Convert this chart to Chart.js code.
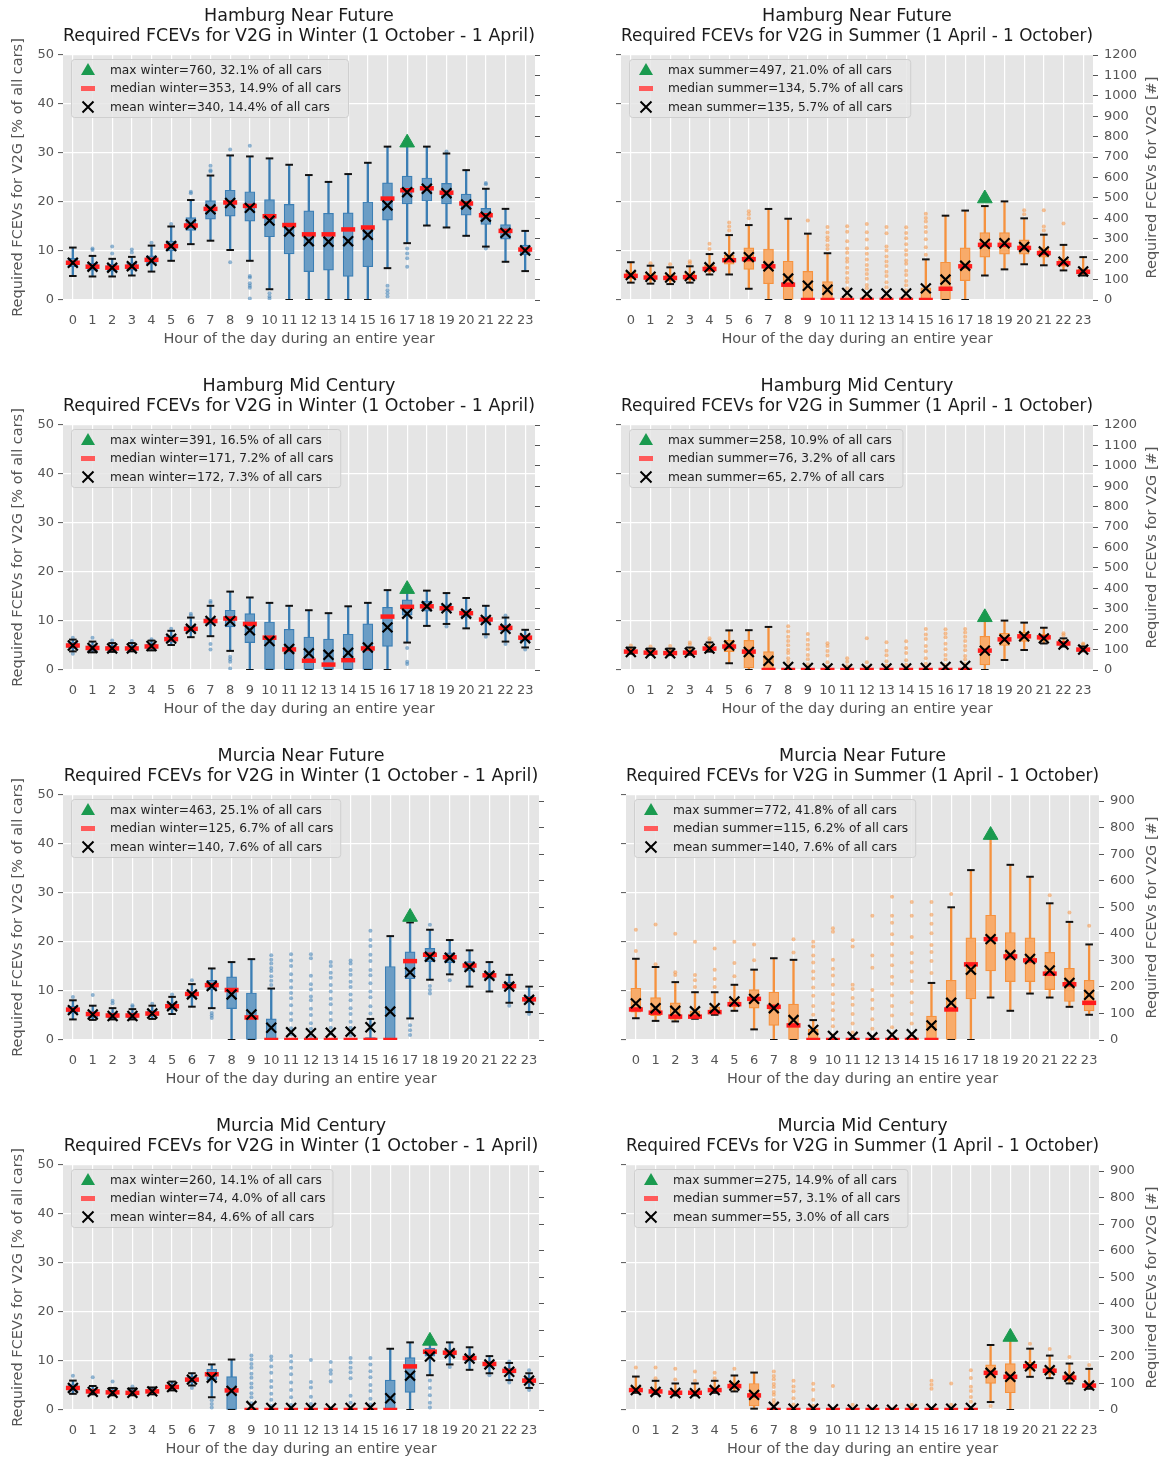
<!DOCTYPE html>
<html>
<head>
<meta charset="utf-8">
<title>Required FCEVs for V2G</title>
<script src="https://cdn.jsdelivr.net/npm/chart.js@4.4.1/dist/chart.umd.min.js"></script>
<style>
  html, body { margin: 0; padding: 0; background: #fff; }
  body { width: 1163px; height: 1461px; position: relative; overflow: hidden; }
  canvas { position: absolute; }
</style>
</head>
<body>
<canvas id="hnfW" width="582" height="370" style="left:0;top:0"></canvas>
<canvas id="hnfS" width="581" height="370" style="left:582px;top:0"></canvas>
<canvas id="hmcW" width="582" height="370" style="left:0;top:370px"></canvas>
<canvas id="hmcS" width="581" height="370" style="left:582px;top:370px"></canvas>
<canvas id="mnfW" width="582" height="370" style="left:0;top:740px"></canvas>
<canvas id="mnfS" width="581" height="370" style="left:582px;top:740px"></canvas>
<canvas id="mmcW" width="582" height="370" style="left:0;top:1110px"></canvas>
<canvas id="mmcS" width="581" height="370" style="left:582px;top:1110px"></canvas>
<script>
const hours = ['0','1','2','3','4','5','6','7','8','9','10','11','12','13','14','15','16','17','18','19','20','21','22','23'];

// Hamburg near future, winter (% of all cars)
const hnfWLo = [4.9,4.8,4.8,5.0,5.8,8.0,11.4,12.1,10.2,8.0,2.2,0,0,0,0,0,6.5,11.6,15.2,14.8,13.1,10.9,7.8,5.9];
const hnfWQ1 = [6.8,6.1,5.9,6.1,7.3,10.0,14.2,16.5,17.1,16.1,12.9,9.4,5.8,6.1,4.8,6.8,16.3,19.6,20.2,19.6,17.3,15.4,12.4,9.2];
const hnfWMed = [7.6,6.8,6.6,6.8,8.2,11.0,15.2,18.6,19.9,19.2,17.1,15.3,13.4,13.4,14.4,14.8,20.7,22.4,22.8,21.9,19.7,17.3,14.1,10.3];
const hnfWQ3 = [8.5,7.5,7.3,7.6,9.0,12.0,16.8,20.3,22.4,22.1,20.5,19.5,18.2,17.7,17.8,20.0,23.9,25.3,24.9,23.8,21.6,18.7,15.4,11.2];
const hnfWHi = [10.7,9.0,8.4,8.8,11.1,15.0,20.4,25.4,29.5,29.3,28.9,27.6,25.5,24.1,25.7,28.0,31.3,31.6,31.3,29.9,26.5,22.7,18.6,14.1];
const hnfWMean = [7.6,6.8,6.6,6.9,8.0,11.0,15.4,18.5,19.8,18.8,16.2,14.0,12.0,11.9,12.0,13.3,19.3,22.0,22.7,21.8,19.5,17.0,13.7,10.1];
const hnfWOut = [[],[10.5,10.2],[10.9,9.5],[10.3,9.7],[11.7],[15.5],[22.1,21.8],[27.4,26.5,26.2],[30.7,7.7],[31.5,4.9,4.6,3.4,2.9,2.5,0.3],[1.4,0.7,0.3],[],[],[],[],[],[2.9,2.0,1.4,0.7],[10.5,9.5,8.5,6.8],[],[30.3],[],[23.9,23.6,10.5],[],[]];
const hnfWMax = [17, 32.1];
const hnfWLegend = ['max winter=760, 32.1% of all cars', 'median winter=353, 14.9% of all cars', 'mean winter=340, 14.4% of all cars'];

// Hamburg near future, summer (number of cars)
const hnfSLo = [85,80,78,85,125,125,55,0,0,0,0,null,null,null,null,0,0,0,120,150,175,170,145,120];
const hnfSQ1 = [105,100,95,100,140,175,150,80,0,0,0,0,0,0,0,0,0,95,210,225,225,210,165,128];
const hnfSMed = [118,110,108,112,152,195,200,165,75,0,0,0,0,0,0,0,55,165,270,270,255,230,180,138];
const hnfSQ3 = [135,130,125,132,170,220,255,250,190,140,90,0,0,0,0,60,185,255,330,330,295,255,200,150];
const hnfSHi = [185,168,160,165,225,318,367,446,398,325,229,null,null,null,null,199,413,438,460,483,400,320,270,210];
const hnfSMean = [122,114,110,117,160,210,210,165,105,70,50,35,30,32,32,57,100,168,275,278,260,238,188,140];
const hnfSOut = [[],[180],[175],[180,190],[250,275],[340,360,380],[400,420,435],[],[],[390],[250,268,293,307,331,358],[14,37,58,88,107,133,158,187,203,231,252,288,334,361],[11,28,57,73,104,127,148,172,198,227,253,296,332,372],[16,38,63,87,117,138,167,188,213,243,262,327,358],[9,27,48,72,93,122,143,177,193,222,244,273,302,328,356],[222,258,297,333,358,384,402,423],[],[],[],[],[420,440],[340,360,440],[375],[]];
const hnfSMax = [18, 497];
const hnfSLegend = ['max summer=497, 21.0% of all cars', 'median summer=134, 5.7% of all cars', 'mean summer=135, 5.7% of all cars'];

// Hamburg mid century, winter (% of all cars)
const hmcWLo = [3.8,3.6,3.7,3.8,4.0,5.1,6.7,6.9,3.9,0,0,0,0,0,0,0,0,5.6,9.0,9.4,8.5,7.3,5.8,4.6];
const hmcWQ1 = [4.5,4.0,4.0,4.0,4.4,5.7,7.8,9.3,8.8,5.6,0,0,0,0,0,0,4.8,11.2,12.0,12.0,10.8,9.6,7.9,6.0];
const hmcWMed = [5.0,4.5,4.4,4.4,4.8,6.3,8.4,10.0,10.5,9.4,6.6,4.2,1.9,1.1,2.0,4.4,10.9,12.9,13.0,12.6,11.6,10.3,8.6,6.6];
const hmcWQ3 = [5.6,5.0,4.9,4.9,5.3,7.0,9.0,10.6,12.2,11.5,9.8,8.3,6.7,6.3,7.3,9.4,12.8,14.3,14.0,13.3,12.3,10.9,9.2,7.1];
const hmcWHi = [6.2,5.8,5.5,5.5,6.0,8.0,10.7,13.1,16.0,14.8,13.7,13.1,12.2,11.6,13.0,13.7,16.3,16.2,16.2,15.7,14.7,13.1,10.7,8.2];
const hmcWMean = [5.0,4.5,4.4,4.4,4.9,6.4,8.4,10.0,10.0,8.1,5.9,4.3,3.4,3.1,3.5,4.6,8.7,11.5,13.0,12.6,11.5,10.2,8.4,6.5];
const hmcWOut = [[6.6,3.3],[6.6],[6.0],[5.9],[6.3],[8.4],[11.1,11.5],[13.7,14.1,4.2,5.3],[2.7,2.2,1.7,0.3],[],[],[],[],[],[],[],[],[4.5,1.7,1.2],[],[8.9],[],[6.8],[11.1,5.3],[4.2]];
const hmcWMax = [17, 16.5];
const hmcWLegend = ['max winter=391, 16.5% of all cars', 'median winter=171, 7.2% of all cars', 'mean winter=172, 7.3% of all cars'];

// Hamburg mid century, summer (number of cars)
const hmcSLo = [80,75,73,75,90,33,0,0,null,null,null,null,null,null,null,null,null,null,0,49,98,130,115,92];
const hmcSQ1 = [85,80,78,80,98,90,10,0,0,0,0,0,0,0,0,0,0,0,25,120,140,145,122,96];
const hmcSMed = [90,85,83,85,105,115,90,0,0,0,0,0,0,0,0,0,0,0,95,150,165,160,130,100];
const hmcSQ3 = [95,92,90,92,112,145,145,90,0,0,0,0,0,0,0,0,0,0,165,180,185,175,140,105];
const hmcSHi = [110,105,105,110,135,194,195,211,null,null,null,null,null,null,null,null,null,null,240,242,232,207,155,115];
const hmcSMean = [88,82,82,85,105,120,88,45,15,10,8,5,5,8,8,10,15,20,95,150,165,155,125,100];
const hmcSOut = [[120],[115],[118],[125,135],[145,155],[],[],[],[9,24,42,58,83,98,121,142,163,188,214],[12,28,53,74,102,124,148,176],[16,38,71,93,117,131],[18,41,58],[14,38,156],[22,43,72,94,136],[26,48,83,108,141],[31,58,92,118,152,174,201],[24,52,73,102,128,161,179,199],[11,29,52,68,97,118,142,163,184,201],[],[],[],[],[170,180],[125,130]];
const hmcSMax = [18, 258];
const hmcSLegend = ['max summer=258, 10.9% of all cars', 'median summer=76, 3.2% of all cars', 'mean summer=65, 2.7% of all cars'];

// Murcia near future, winter (% of all cars)
const mnfWLo = [4.2,4.1,4.2,4.2,4.3,5.3,6.8,6.5,0,0,0,null,null,null,null,0,0,4.4,12.3,13.4,10.9,9.9,7.6,5.7];
const mnfWQ1 = [5.5,4.6,4.5,4.5,4.9,6.2,8.7,10.2,6.4,0,0,0,0,0,0,0,0,12.5,16.0,15.8,14.1,12.5,10.3,7.7];
const mnfWMed = [6.2,5.3,5.0,5.0,5.4,6.9,9.4,11.2,10.2,4.6,0,0,0,0,0,0,0,16.1,17.4,16.9,15.2,13.2,11.0,8.3];
const mnfWQ3 = [6.9,5.8,5.5,5.5,6.0,7.6,10.0,12.2,12.9,9.6,4.3,0,0,0,0,0.5,15.0,18.0,18.7,17.8,16.0,13.9,11.8,8.9];
const mnfWHi = [8.1,7.0,6.5,6.3,7.0,8.8,11.4,14.6,15.9,16.5,10.5,null,null,null,null,4.3,21.2,24.0,22.5,20.4,18.3,15.9,13.3,10.9];
const mnfWMean = [6.1,5.2,4.9,4.9,5.4,6.9,9.3,11.0,9.3,5.2,2.5,1.6,1.4,1.5,1.7,2.6,5.8,13.8,17.0,16.8,14.9,13.1,10.9,8.2];
const mnfWOut = [[8.8],[9.2],[7.5,8.0],[6.8,7.1],[7.4],[9.3],[12.2],[4.5,5.0,5.5],[],[],[11.2,12.1,13.0,14.1,14.7,15.6,16.4,17.3],[1.1,2.4,4.1,5.4,7.1,8.5,9.6,10.7,12.1,13.4,15.1,16.2,17.5],[0.8,2.3,3.4,5.1,6.4,8.1,8.9,10.3,11.4,13.1,16.7,17.5],[1.3,2.5,4.1,5.5,7.3,8.4,9.9,11.2,12.7,13.7,15.1,15.9],[0.9,2.5,3.7,5.3,6.5,8.1,9.3,10.8,11.9,13.3,14.3,15.6,16.2],[5.4,6.9,8.7,9.9,11.6,13.2,14.3,16.1,17.4,19.2,20.4,22.3],[],[3.0,2.0,1.0],[23.5,11.0,10.2,9.5],[12.2],[],[],[7.0],[5.3]];
const mnfWMax = [17, 25.1];
const mnfWLegend = ['max winter=463, 25.1% of all cars', 'median winter=125, 6.7% of all cars', 'mean winter=140, 7.6% of all cars'];

// Murcia near future, summer (number of cars)
const mnfSLo = [82,72,70,80,95,110,40,0,0,0,null,null,null,null,null,0,0,0,160,110,175,160,125,95];
const mnfSQ1 = [105,92,78,82,100,125,120,55,0,0,0,0,0,0,0,0,0,155,260,220,220,190,145,110];
const mnfSMed = [115,103,88,88,105,135,155,125,55,0,0,0,0,0,0,0,115,285,380,315,300,250,210,140];
const mnfSQ3 = [195,160,140,110,125,155,190,180,135,40,0,0,0,0,0,90,225,385,470,405,385,330,270,225];
const mnfSHi = [306,275,218,180,180,208,265,308,302,75,null,null,null,null,null,215,500,640,760,660,615,515,445,360];
const mnfSMean = [138,120,110,108,120,145,155,120,75,38,15,12,10,20,22,55,140,265,380,320,305,262,215,170];
const mnfSOut = [[335,415],[285,435],[245,255,400],[200,225,245,370],[200,230,265,345],[240,290,370],[300,360],[],[330,380],[95,128,167,198,232,258,292,318,352,370],[18,52,78,112,138,172,208,243,268,302,408,421],[28,62,98,133,158,192,208,352,376],[42,78,118,152,188,272,318,468],[22,48,92,128,168,212,238,282,318,362,398,442,468,540],[18,62,98,142,178,222,258,292,328,388,468,520],[252,298,332,358,402,438,472,520],[550],[],[],[],[],[545],[480],[430]];
const mnfSMax = [18, 772];
const mnfSLegend = ['max summer=772, 41.8% of all cars', 'median summer=115, 6.2% of all cars', 'mean summer=140, 7.6% of all cars'];

// Murcia mid century, winter (% of all cars)
const mmcWLo = [3.3,3.2,3.0,3.0,3.2,4.0,5.0,2.6,0,null,null,null,null,null,null,null,0,0,7.1,9.3,8.2,7.5,6.1,4.5];
const mmcWQ1 = [4.0,3.4,3.3,3.2,3.5,4.4,5.7,6.2,0,0,0,0,0,0,0,0,0,3.6,11.0,11.0,10.0,8.9,7.5,5.6];
const mmcWMed = [4.5,3.8,3.6,3.5,3.8,4.7,6.2,7.3,4.0,0,0,0,0,0,0,0,0,8.9,11.9,11.7,10.6,9.4,8.0,6.0];
const mmcWQ3 = [5.2,4.2,3.9,3.9,4.1,5.1,6.8,8.3,6.8,0,0,0,0,0,0,0,6.1,10.7,12.6,12.3,11.2,9.9,8.5,6.5];
const mmcWHi = [6.0,4.9,4.5,4.4,4.6,5.8,7.5,9.3,10.3,null,null,null,null,null,null,null,12.5,13.8,13.6,13.8,12.8,11.0,9.6,7.5];
const mmcWMean = [4.5,3.7,3.5,3.5,3.8,4.7,6.2,6.6,3.9,0.8,0.4,0.4,0.4,0.3,0.4,0.5,2.4,7.0,10.9,11.6,10.5,9.3,7.8,6.0];
const mmcWOut = [[7.0],[6.7],[5.8],[4.8],[],[],[4.5],[0.5,1.2,2.0],[],[0.5,1.4,2.6,3.4,4.6,5.4,6.6,7.4,8.6,9.4,10.3,11.1],[0.8,2.1,3.3,4.7,5.9,7.6,8.9,10.2,10.9],[1.0,2.6,4.1,5.6,7.3,8.6,9.9,11.0],[1.2,2.7,4.6,5.7,10.2],[5.8,7.4,8.1,9.8],[1.5,2.9,6.5,7.7,8.6,9.7,10.6],[1.1,2.3,3.9,5.1,6.7,7.9,9.3,10.6],[],[],[6.0,4.5,3.0,1.5,0.5],[8.8],[],[7.1],[5.6,9.9],[4.1,8.1]];
const mmcWMax = [18, 14.1];
const mmcWLegend = ['max winter=260, 14.1% of all cars', 'median winter=74, 4.0% of all cars', 'mean winter=84, 4.6% of all cars'];

// Murcia mid century, summer (number of cars)
const mmcSLo = [65,60,55,55,65,70,5,null,null,null,null,null,null,null,null,null,null,null,30,0,125,120,100,80];
const mmcSQ1 = [70,65,60,60,70,80,15,0,0,0,0,0,0,0,0,0,0,0,100,65,150,135,110,85];
const mmcSMed = [75,70,65,65,75,90,55,0,0,0,0,0,0,0,0,0,0,0,140,125,165,148,122,92];
const mmcSQ3 = [85,78,72,72,82,102,100,0,0,0,0,0,0,0,0,0,0,0,170,175,180,160,135,100];
const mmcSHi = [126,110,100,100,110,130,141,null,null,null,null,null,null,null,null,null,null,null,245,265,231,205,175,155];
const mmcSMean = [75,68,64,63,75,92,57,12,5,5,3,2,1,1,3,5,5,8,140,125,165,150,125,92];
const mmcSOut = [[160],[120,160],[115,155],[110,145],[120,140],[155],[],[9,26,38,57,68,87,98,116,128,145],[21,44,71,89,110],[16,39,76,99],[90],[20],[],[],[20],[80,95,110],[20,100],[31,49,72,88,121,150],[15],[],[250],[230],[200],[170]];
const mmcSMax = [19, 275];
const mmcSLegend = ['max summer=275, 14.9% of all cars', 'median summer=57, 3.1% of all cars', 'mean summer=55, 3.0% of all cars'];

const winterSub = 'Required FCEVs for V2G in Winter (1 October - 1 April)';
const summerSub = 'Required FCEVs for V2G in Summer (1 April - 1 October)';

const blue = { edge: '#3b7eb4', fill: '#6b9dc5', flier: 'rgba(59,126,180,0.55)' };
const orange = { edge: '#f5923f', fill: '#f8ab6a', flier: 'rgba(245,146,63,0.55)' };

Chart.defaults.font.family = "'DejaVu Sans', sans-serif";
Chart.defaults.color = '#555';

// grey plot background, boxed legend inside the axes and the right hand axis title
const panelDecor = {
  id: 'panelDecor',
  beforeDraw(chart) {
    const { ctx, chartArea: a } = chart;
    ctx.save();
    ctx.fillStyle = '#e5e5e5';
    ctx.fillRect(a.left, a.top, a.right - a.left, a.bottom - a.top);
    ctx.restore();
  },
  afterDraw(chart, args, opts) {
    const { ctx, chartArea: a } = chart;
    ctx.save();
    ctx.font = "12.2px 'DejaVu Sans'";
    const tw = Math.max(...opts.legend.map(t => ctx.measureText(t).width));
    const x0 = a.left + 8, y0 = a.top + 4;
    const w = 39 + tw + 7, h = 58;
    ctx.fillStyle = 'rgba(229,229,229,0.82)';
    ctx.strokeStyle = '#cfcfcf';
    ctx.lineWidth = 1;
    ctx.beginPath();
    ctx.roundRect(x0 + 0.5, y0 + 0.5, w, h, 3);
    ctx.fill();
    ctx.stroke();

    const sx = x0 + 17;
    const rows = [y0 + 11, y0 + 29.5, y0 + 48];
    // max marker
    ctx.fillStyle = '#1a9a4f';
    ctx.beginPath();
    ctx.moveTo(sx, rows[0] - 7);
    ctx.lineTo(sx + 7, rows[0] + 5);
    ctx.lineTo(sx - 7, rows[0] + 5);
    ctx.closePath();
    ctx.fill();
    // median marker
    ctx.fillStyle = '#ff5a5a';
    ctx.fillRect(sx - 7, rows[1] - 2.5, 14, 5);
    // mean marker
    ctx.strokeStyle = '#000';
    ctx.lineWidth = 2;
    ctx.beginPath();
    ctx.moveTo(sx - 5.5, rows[2] - 5.5); ctx.lineTo(sx + 5.5, rows[2] + 5.5);
    ctx.moveTo(sx + 5.5, rows[2] - 5.5); ctx.lineTo(sx - 5.5, rows[2] + 5.5);
    ctx.stroke();

    ctx.fillStyle = '#222';
    ctx.textBaseline = 'middle';
    opts.legend.forEach((t, i) => ctx.fillText(t, x0 + 39, rows[i] + 0.5));
    ctx.restore();

    if (opts.rightTitle) {
      ctx.save();
      ctx.translate(chart.width - 11, (a.top + a.bottom) / 2);
      ctx.rotate(-Math.PI / 2);
      ctx.font = "14.5px 'DejaVu Sans'";
      ctx.fillStyle = '#555';
      ctx.textAlign = 'center';
      ctx.textBaseline = 'middle';
      ctx.fillText(opts.rightTitle, 0, 0);
      ctx.restore();
    }
  }
};
Chart.register(panelDecor);

function drawPanel(p) {
  const canvas = document.getElementById(p.id);
  const W = canvas.width;
  const onLeft = p.side === 'left';
  const col = p.season === 'winter' ? blue : orange;
  const yId = onLeft ? 'y' : 'y2';

  const whiskers = p.lo.map((v, i) => (v === null ? null : [v, p.hi[i]]));
  const boxes = p.q1.map((v, i) => [v, p.q3[i]]);
  const fliers = [];
  p.out.forEach((vals, h) => vals.forEach(v => fliers.push({ x: hours[h], y: v })));
  const peak = [{ x: hours[p.max[0]], y: p.max[1] }];
  const pts = (data, extra) => Object.assign({ type: 'line', data: data, yAxisID: yId, showLine: false, clip: 0 }, extra);

  new Chart(canvas, {
    type: 'bar',
    data: {
      labels: hours,
      datasets: [
        { type: 'bar', data: whiskers, yAxisID: yId, grouped: false, barThickness: 1.7, backgroundColor: col.edge, order: 9 },
        { type: 'bar', data: boxes, yAxisID: yId, grouped: false, barThickness: 10, backgroundColor: col.fill,
          borderColor: col.edge, borderWidth: 1.2, borderSkipped: false, order: 8 },
        pts(fliers, { pointRadius: 2, pointBackgroundColor: col.flier, pointBorderWidth: 0, order: 7 }),
        pts(p.lo, { pointStyle: 'line', pointRadius: 3.8, pointBorderWidth: 2, pointBorderColor: '#111', order: 6 }),
        pts(p.hi, { pointStyle: 'line', pointRadius: 3.8, pointBorderWidth: 2, pointBorderColor: '#111', order: 5 }),
        pts(p.med, { pointStyle: 'line', pointRadius: 7, pointBorderWidth: 4.5, pointBorderColor: '#ff1c1c', order: 4 }),
        pts(p.mean, { pointStyle: 'crossRot', pointRadius: 7, pointBorderWidth: 2.2, pointBorderColor: '#000', order: 3 }),
        pts(peak, { pointStyle: 'triangle', pointRadius: 8.5, pointBackgroundColor: '#1a9a4f', pointBorderColor: '#1a9a4f',
          pointBorderWidth: 1, clip: false, order: 2 })
      ]
    },
    options: {
      responsive: false,
      animation: false,
      events: [],
      layout: { padding: 0 },
      plugins: {
        legend: { display: false },
        tooltip: { enabled: false },
        title: {
          display: true, text: p.title, fullSize: false, color: '#1a1a1a',
          font: { size: 17.5, weight: 'normal', lineHeight: 1.143 }, padding: { top: 6, bottom: 9 }
        },
        panelDecor: { legend: p.legend, rightTitle: onLeft ? null : 'Required FCEVs for V2G [#]' }
      },
      scales: {
        x: {
          offset: true,
          grid: { color: '#fff', lineWidth: 1.2, offset: false, drawTicks: false },
          border: { display: false },
          ticks: { color: '#555', font: { size: 13 }, padding: 13, autoSkip: false, maxRotation: 0 },
          title: { display: true, text: 'Hour of the day during an entire year', color: '#555', font: { size: 14.5 }, padding: { top: 0, bottom: 22 } },
          afterFit: s => { s.height = 70; }
        },
        y: {
          position: 'left', min: 0, max: 50,
          ticks: { stepSize: 10, display: onLeft, color: '#555', font: { size: 13 }, padding: 4 },
          grid: { color: '#fff', lineWidth: 1.2, tickColor: '#555', tickWidth: 1, tickLength: 5 },
          border: { display: false },
          title: { display: onLeft, text: 'Required FCEVs for V2G [% of all cars]', color: '#555', font: { size: 14.5 }, padding: { top: 10 } },
          afterFit: s => { s.width = p.plotLeft; }
        },
        y2: {
          position: 'right', min: 0, max: p.numMax,
          ticks: { stepSize: 100, includeBounds: false, display: !onLeft, color: '#555', font: { size: 13 }, padding: 6,
            callback: v => String(v) },
          grid: { drawOnChartArea: false, tickColor: '#555', tickWidth: 1, tickLength: 5 },
          border: { display: false },
          afterFit: s => { s.width = W - p.plotRight; }
        }
      }
    }
  });
}

drawPanel({ id: 'hnfW', side: 'left', season: 'winter', title: ['Hamburg Near Future', winterSub], plotLeft: 63, plotRight: 535, numMax: 1200,
  lo: hnfWLo, q1: hnfWQ1, med: hnfWMed, q3: hnfWQ3, hi: hnfWHi, mean: hnfWMean, out: hnfWOut, max: hnfWMax, legend: hnfWLegend });
drawPanel({ id: 'hnfS', side: 'right', season: 'summer', title: ['Hamburg Near Future', summerSub], plotLeft: 39, plotRight: 511, numMax: 1200,
  lo: hnfSLo, q1: hnfSQ1, med: hnfSMed, q3: hnfSQ3, hi: hnfSHi, mean: hnfSMean, out: hnfSOut, max: hnfSMax, legend: hnfSLegend });
drawPanel({ id: 'hmcW', side: 'left', season: 'winter', title: ['Hamburg Mid Century', winterSub], plotLeft: 63, plotRight: 535, numMax: 1200,
  lo: hmcWLo, q1: hmcWQ1, med: hmcWMed, q3: hmcWQ3, hi: hmcWHi, mean: hmcWMean, out: hmcWOut, max: hmcWMax, legend: hmcWLegend });
drawPanel({ id: 'hmcS', side: 'right', season: 'summer', title: ['Hamburg Mid Century', summerSub], plotLeft: 39, plotRight: 511, numMax: 1200,
  lo: hmcSLo, q1: hmcSQ1, med: hmcSMed, q3: hmcSQ3, hi: hmcSHi, mean: hmcSMean, out: hmcSOut, max: hmcSMax, legend: hmcSLegend });
drawPanel({ id: 'mnfW', side: 'left', season: 'winter', title: ['Murcia Near Future', winterSub], plotLeft: 63, plotRight: 539, numMax: 923,
  lo: mnfWLo, q1: mnfWQ1, med: mnfWMed, q3: mnfWQ3, hi: mnfWHi, mean: mnfWMean, out: mnfWOut, max: mnfWMax, legend: mnfWLegend });
drawPanel({ id: 'mnfS', side: 'right', season: 'summer', title: ['Murcia Near Future', summerSub], plotLeft: 44, plotRight: 517, numMax: 923,
  lo: mnfSLo, q1: mnfSQ1, med: mnfSMed, q3: mnfSQ3, hi: mnfSHi, mean: mnfSMean, out: mnfSOut, max: mnfSMax, legend: mnfSLegend });
drawPanel({ id: 'mmcW', side: 'left', season: 'winter', title: ['Murcia Mid Century', winterSub], plotLeft: 63, plotRight: 539, numMax: 923,
  lo: mmcWLo, q1: mmcWQ1, med: mmcWMed, q3: mmcWQ3, hi: mmcWHi, mean: mmcWMean, out: mmcWOut, max: mmcWMax, legend: mmcWLegend });
drawPanel({ id: 'mmcS', side: 'right', season: 'summer', title: ['Murcia Mid Century', summerSub], plotLeft: 44, plotRight: 517, numMax: 923,
  lo: mmcSLo, q1: mmcSQ1, med: mmcSMed, q3: mmcSQ3, hi: mmcSHi, mean: mmcSMean, out: mmcSOut, max: mmcSMax, legend: mmcSLegend });
</script>
</body>
</html>
